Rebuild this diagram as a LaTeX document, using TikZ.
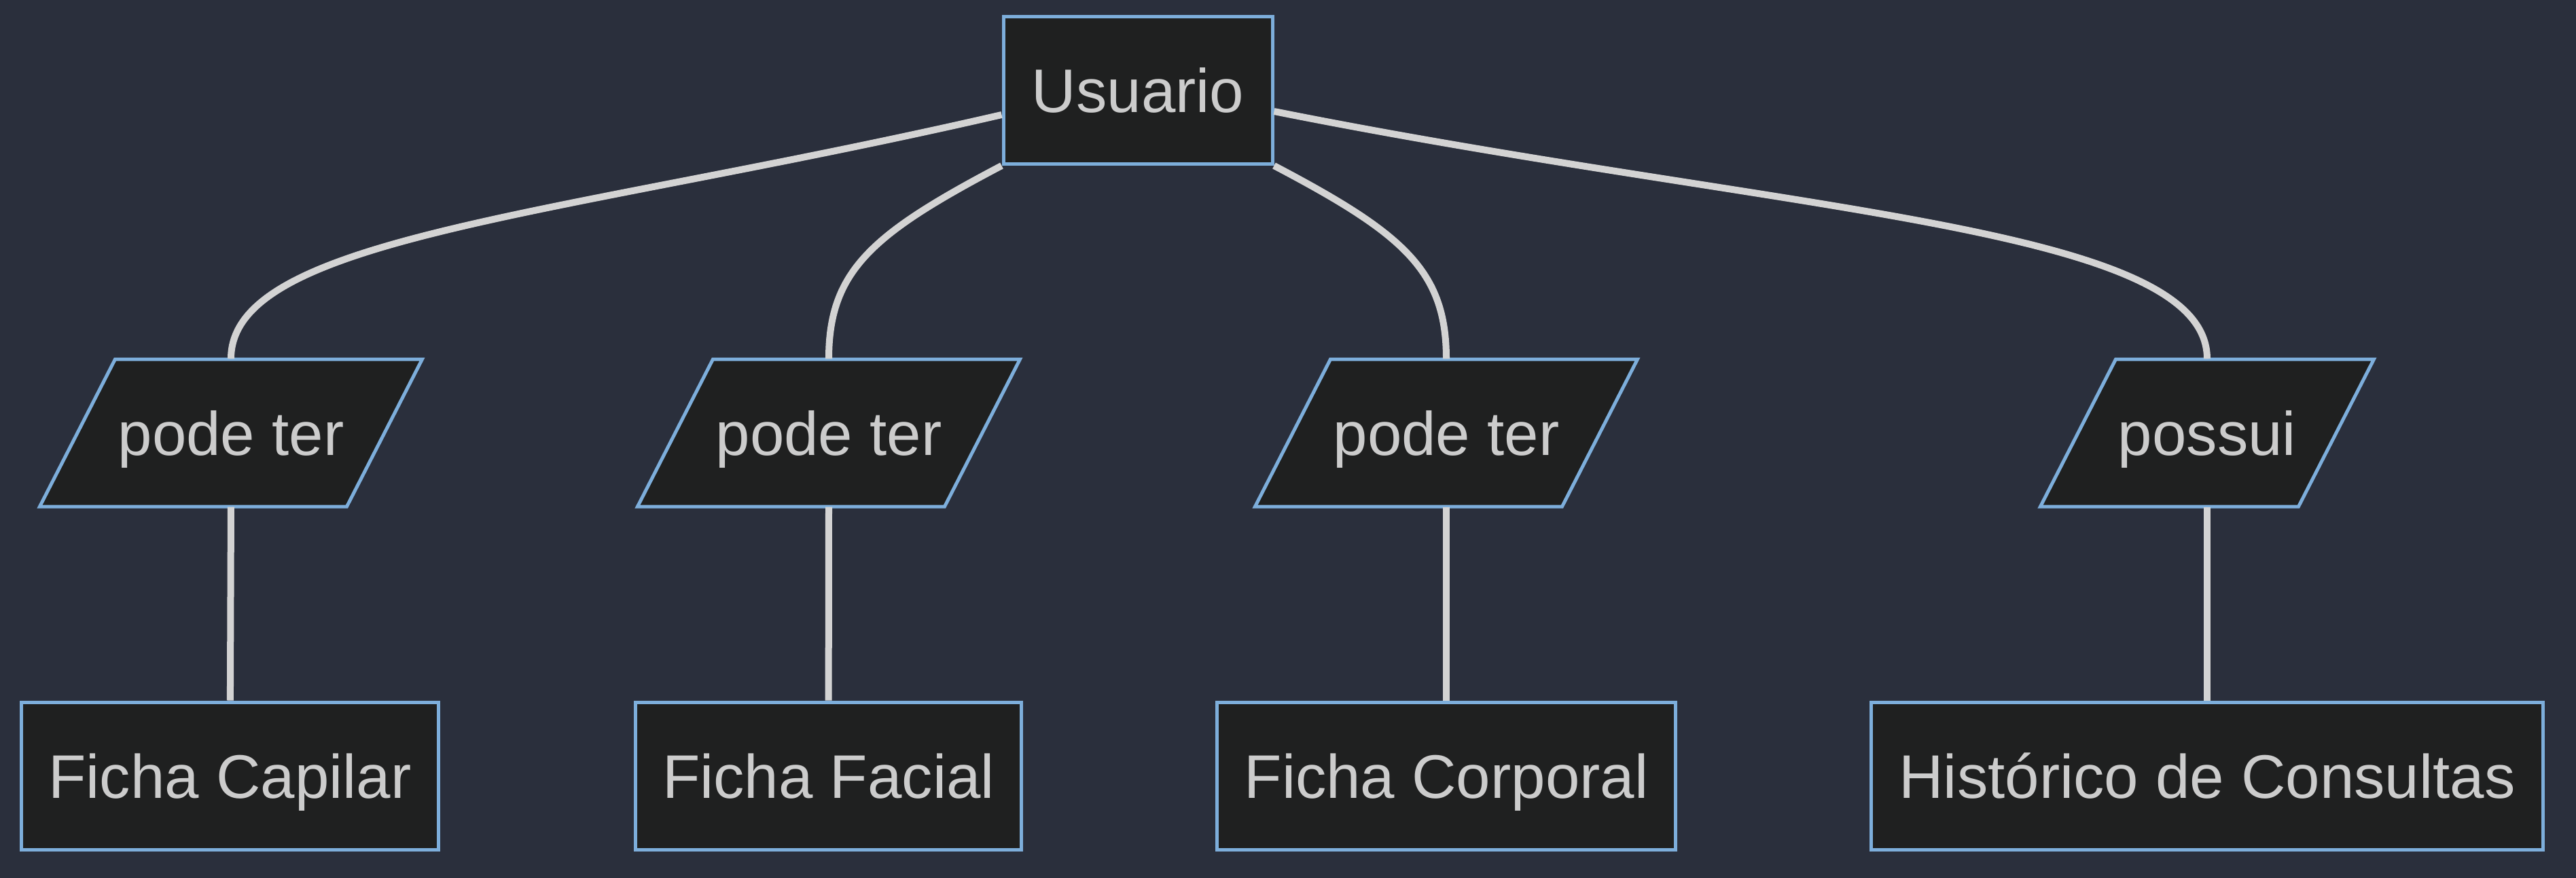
\documentclass[tikz,border=0pt]{standalone}
\usepackage{fontspec}
\setmainfont{Liberation Sans}
\usetikzlibrary{calc}

\definecolor{bgdark}{HTML}{2A2F3C}
\definecolor{nodefill}{HTML}{1F2020}
\definecolor{edgeblue}{HTML}{7DAEDB}
\definecolor{textgray}{HTML}{CCCCCC}
\definecolor{linkgray}{HTML}{D3D3D3}

\begin{document}
\begin{tikzpicture}[
    label text/.style={text=textgray, minimum height=2.17cm, inner sep=0pt,
      text height=0.73cm, text depth=0.08cm, font=\fontsize{25.8}{31}\selectfont},
    box/.style={label text, draw=edgeblue, fill=nodefill, line width=0.05cm},
    relshape/.style={draw=edgeblue, fill=nodefill, line width=0.05cm, line join=miter},
    link/.style={draw=linkgray, line width=0.1cm}]
    \fill[bgdark] (0, 0) rectangle (37.92, -12.93);
    \useasboundingbox (0, 0) rectangle (37.92, -12.93);

    \coordinate (r1) at (3.40, -6.375);
    \coordinate (r2) at (12.20, -6.375);
    \coordinate (r3) at (21.29, -6.375);
    \coordinate (r4) at (32.49, -6.375);
    \foreach \n/\w in {r1/5.63, r2/5.63, r3/5.63, r4/4.91}
      \filldraw[relshape] ($(\n) + (-\w/2, -1.085)$) -- ++(\w-1.11, 0) -- ++(1.11, 2.17)
        -- ++(-\w+1.11, 0) -- cycle;

    \node[box, minimum width=3.96cm] (usuario) at (16.75, -1.33) {Usuario};

    \node[label text] (rel1) at (r1) {pode ter};
    \node[label text] (rel2) at (r2) {pode ter};
    \node[label text] (rel3) at (r3) {pode ter};
    \node[label text] (rel4) at (r4) {possui};

    \node[box, minimum width=6.14cm] (capilar) at (3.385, -11.425) {Ficha Capilar};
    \node[box, minimum width=5.68cm] (facial) at (12.195, -11.425) {Ficha Facial};
    \node[box, minimum width=6.75cm] (corporal) at (21.29, -11.425) {Ficha Corporal};
    \node[box, minimum width=9.89cm] (historico) at (32.49, -11.425) {Histórico de Consultas};

    \draw[link] ([yshift=-0.36cm]usuario.west) .. controls +(-6.5, -1.5) and +(0, 1.8)
      .. (rel1.north);
    \draw[link] (usuario.south west) .. controls +(-1.9, -1.0) and +(0, 1.3)
      .. (rel2.north);
    \draw[link] (usuario.south east) .. controls +(1.9, -1.0) and +(0, 1.3)
      .. (rel3.north);
    \draw[link] ([yshift=-0.31cm]usuario.east) .. controls +(7.5, -1.5) and +(0, 1.97)
      .. (rel4.north);

    \draw[link] (rel1.south) -- (capilar);
    \draw[link] (rel2.south) -- (facial);
    \draw[link] (rel3.south) -- (corporal);
    \draw[link] (rel4.south) -- (historico);
  \end{tikzpicture}
\end{document}
